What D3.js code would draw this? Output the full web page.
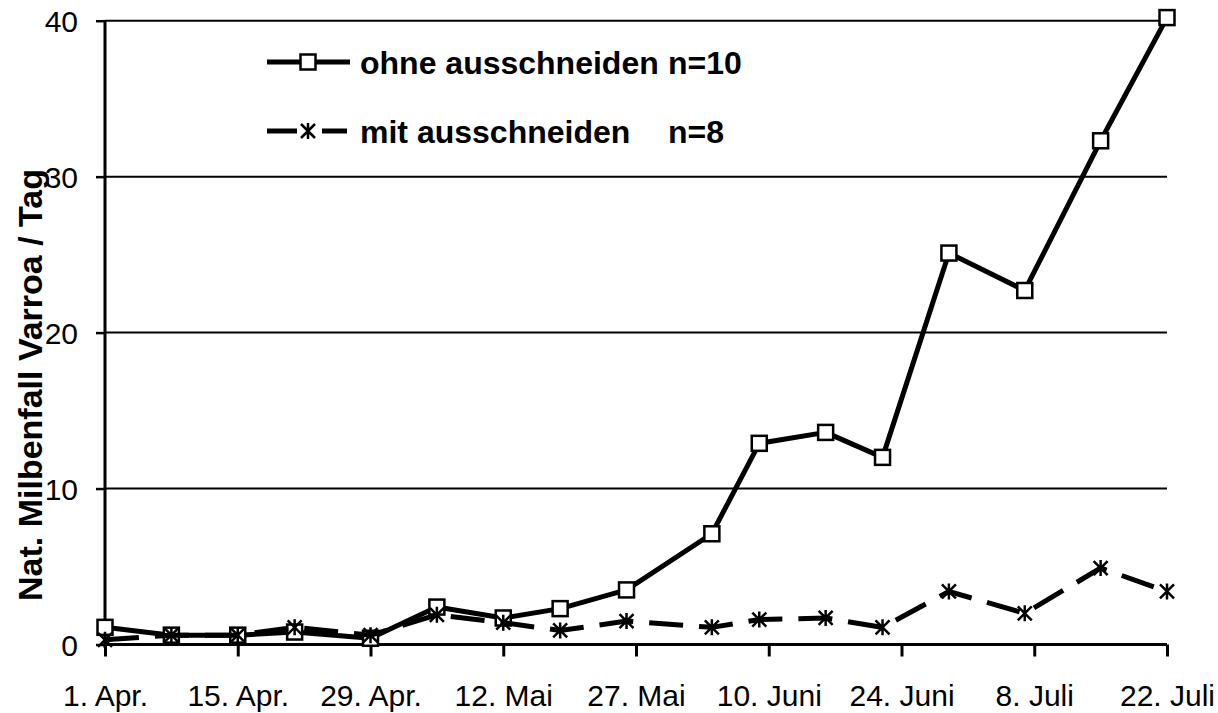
<!DOCTYPE html>
<html>
<head>
<meta charset="utf-8">
<script src="https://cdn.jsdelivr.net/npm/d3@7"></script>
<style>
  body { margin: 0; background: #fff; }
  svg text { font-family: Arial, "Liberation Sans", sans-serif; fill: #000; }
</style>
</head>
<body>
<svg id="chart" width="1218" height="713"></svg>
<script>
// days since 1. April for each count
const days = [0, 7, 14, 20, 28, 35, 42, 48, 55, 64, 69, 76, 82, 89, 97, 105, 112];
const ohne = [1.1, 0.6, 0.6, 0.8, 0.4, 2.4, 1.7, 2.3, 3.5, 7.1, 12.9, 13.6, 12.0, 25.1, 22.7, 32.3, 40.2];
const mit  = [0.3, 0.6, 0.6, 1.1, 0.6, 1.9, 1.4, 0.9, 1.5, 1.1, 1.6, 1.7, 1.1, 3.4, 2.0, 4.9, 3.4];

const tickDays = [0, 14, 28, 42, 56, 70, 84, 98, 112];
const tickLabels = ["1. Apr.", "15. Apr.", "29. Apr.", "12. Mai", "27. Mai", "10. Juni", "24. Juni", "8. Juli", "22. Juli"];
const yTicks = [0, 10, 20, 30, 40];

const legendNames = ["ohne ausschneiden", "mit ausschneiden"];
const legendN = ["n=10", "n=8"];

const svg = d3.select("#chart");

const x = d3.scaleLinear().domain([0, 112]).range([105, 1167]);
const y = d3.scaleLinear().domain([0, 40]).range([644.5, 20.7]);

// gridlines
svg.append("g")
  .selectAll("line")
  .data(yTicks.filter(d => d > 0))
  .join("line")
  .attr("x1", x(0)).attr("x2", x(112))
  .attr("y1", d => y(d)).attr("y2", d => y(d))
  .attr("stroke", "#000").attr("stroke-width", 2);

// y axis
const yAxis = svg.append("g")
  .attr("transform", `translate(${x(0)},0)`)
  .call(d3.axisLeft(y).tickValues(yTicks).tickSize(9).tickPadding(18));
yAxis.select(".domain").attr("stroke-width", 3).attr("d", `M-0,${y(40)}V${y(0) + 3}`);
yAxis.selectAll(".tick line").attr("stroke-width", 2.5);
yAxis.selectAll("text").attr("font-size", 30).attr("font-family", "Arial, 'Liberation Sans', sans-serif").attr("dy", "0.36em");

// x axis
const xAxis = svg.append("g")
  .attr("transform", `translate(0,${y(0)})`)
  .call(d3.axisBottom(x).tickValues(tickDays).tickFormat((d, i) => tickLabels[i]).tickSize(12).tickPadding(28));
xAxis.select(".domain").attr("stroke-width", 3).attr("d", `M${x(0)},0H${x(112)}`);
xAxis.selectAll(".tick line").attr("stroke-width", 3);
xAxis.selectAll("text").attr("font-size", 30).attr("font-family", "Arial, 'Liberation Sans', sans-serif");

// y title
svg.append("text")
  .attr("transform", `translate(42,385) rotate(-90)`)
  .attr("text-anchor", "middle")
  .attr("font-size", 34)
  .attr("font-weight", "bold")
  .text("Nat. Milbenfall Varroa / Tag");

const line = d3.line().x(d => x(d[0])).y(d => y(d[1]));
const ohnePts = days.map((d, i) => [d, ohne[i]]);
const mitPts = days.map((d, i) => [d, mit[i]]);

function square(g, cx, cy) {
  g.append("rect")
    .attr("x", cx - 7.5).attr("y", cy - 7.5)
    .attr("width", 15).attr("height", 15)
    .attr("fill", "#fff").attr("stroke", "#000").attr("stroke-width", 2.5);
}
function star(g, cx, cy) {
  const s = 7;
  g.append("path")
    .attr("d", `M${cx - s},${cy - s}L${cx + s},${cy + s}M${cx + s},${cy - s}L${cx - s},${cy + s}M${cx},${cy - s - 1}V${cy + s + 1}`)
    .attr("fill", "none").attr("stroke", "#000").attr("stroke-width", 2.5);
}

// ohne ausschneiden
svg.append("path").datum(ohnePts)
  .attr("d", line).attr("fill", "none")
  .attr("stroke", "#000").attr("stroke-width", 5).attr("stroke-linejoin", "round");
const gO = svg.append("g");
ohnePts.forEach(p => square(gO, x(p[0]), y(p[1])));

// mit ausschneiden
svg.append("path").datum(mitPts)
  .attr("d", line).attr("fill", "none")
  .attr("stroke", "#000").attr("stroke-width", 5)
  .attr("stroke-dasharray", "34,16");
const gM = svg.append("g");
mitPts.forEach(p => star(gM, x(p[0]), y(p[1])));

// legend
const legY = [62, 131];
const lg = svg.append("g");
lg.append("line").attr("x1", 267).attr("x2", 350).attr("y1", legY[0]).attr("y2", legY[0])
  .attr("stroke", "#000").attr("stroke-width", 5);
square(lg, 308, legY[0]);
lg.append("line").attr("x1", 267).attr("x2", 297).attr("y1", legY[1]).attr("y2", legY[1])
  .attr("stroke", "#000").attr("stroke-width", 5);
lg.append("line").attr("x1", 322).attr("x2", 347).attr("y1", legY[1]).attr("y2", legY[1])
  .attr("stroke", "#000").attr("stroke-width", 5);
star(lg, 308, legY[1]);

const nX = [668, 668];
legendNames.forEach((name, i) => {
  lg.append("text").attr("x", 360).attr("y", legY[i] + 12)
    .attr("font-size", 32).attr("font-weight", "bold").text(name);
  lg.append("text").attr("x", nX[i]).attr("y", legY[i] + 12)
    .attr("font-size", 32).attr("font-weight", "bold").text(legendN[i]);
});
</script>
</body>
</html>
